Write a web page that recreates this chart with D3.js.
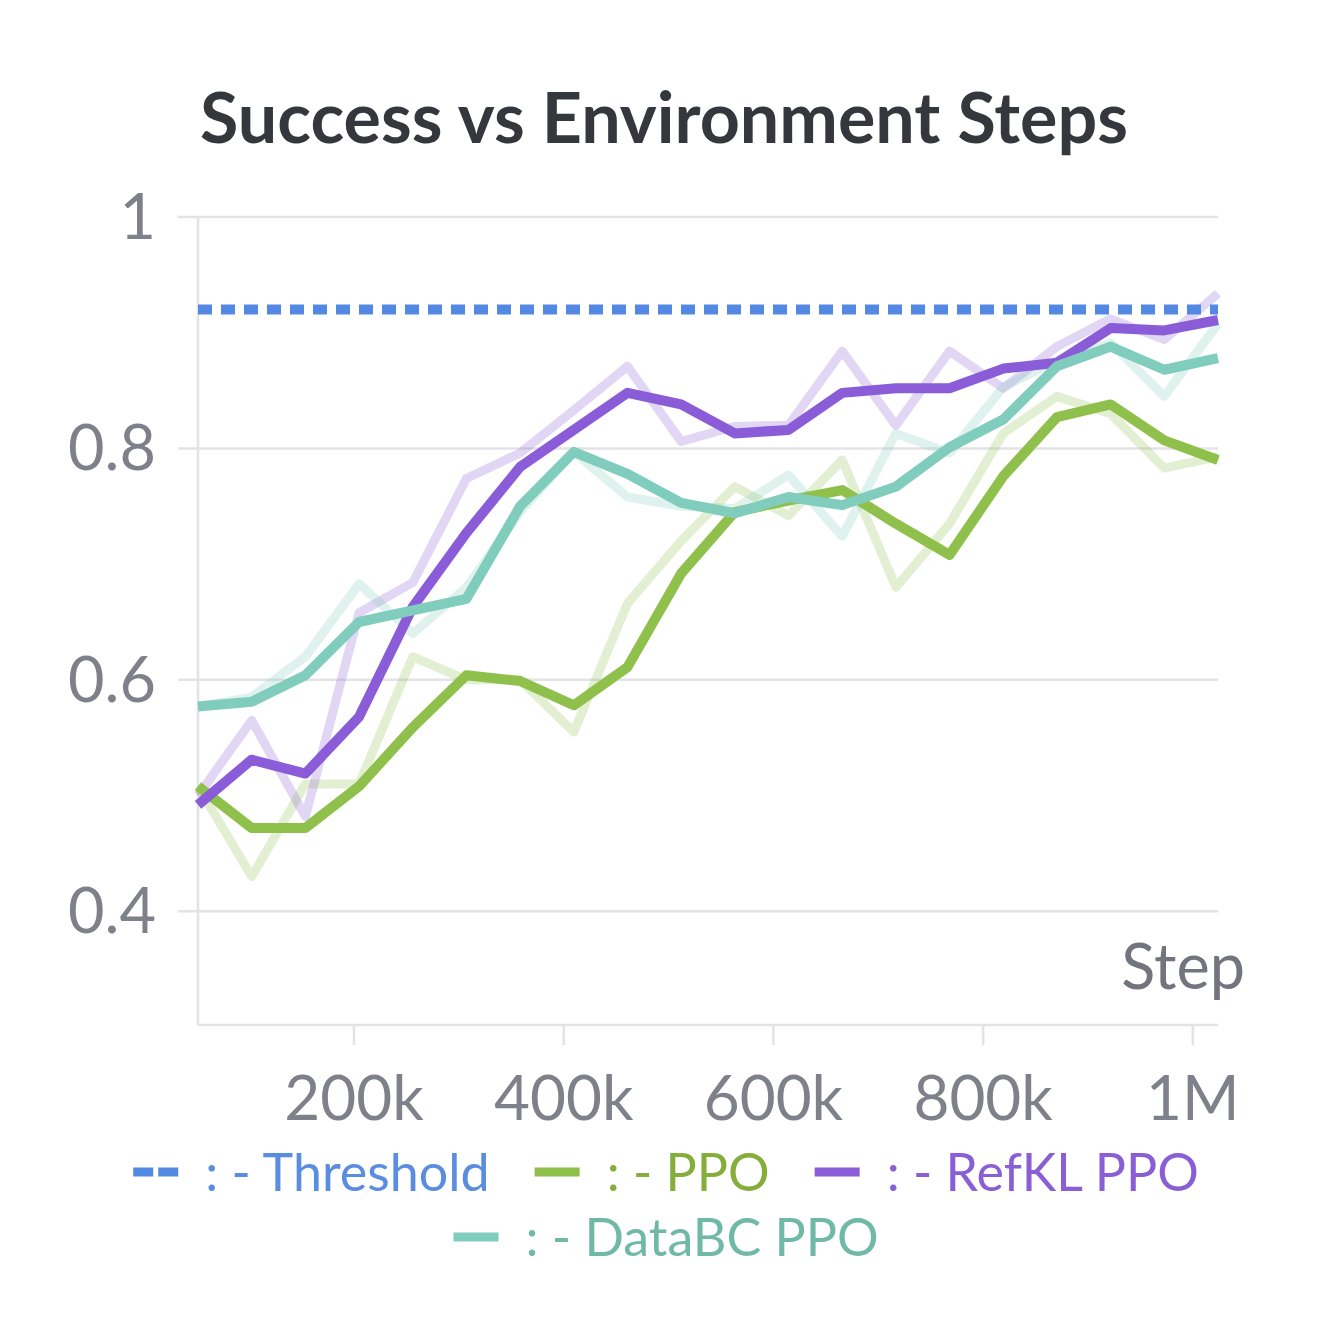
<!DOCTYPE html>
<html>
<head>
<meta charset="utf-8">
<script src="https://cdn.jsdelivr.net/npm/d3@7"></script>
<style>
  body { margin: 0; background: #fff; }
  svg { font-family: Lato, "Noto Sans", sans-serif; }
</style>
</head>
<body>
<svg width="1328" height="1328"></svg>
<script>
// steps (x) for every logged point
var steps = [51200, 102400, 153600, 204800, 256000, 307200, 358400, 409600, 460800, 512000,
             563200, 614400, 665600, 716800, 768000, 819200, 870400, 921600, 972800, 1024000];

// raw (faint) and smoothed (solid) success per run
var ppoRaw    = [0.508, 0.43, 0.51, 0.51, 0.62, 0.60, 0.60, 0.555, 0.666, 0.72,
                 0.767, 0.742, 0.79, 0.68, 0.735, 0.813, 0.845, 0.83, 0.783, 0.793];
var ppoSmooth = [0.508, 0.472, 0.472, 0.508, 0.559, 0.604, 0.599, 0.578, 0.611, 0.692,
                 0.745, 0.755, 0.764, 0.735, 0.708, 0.776, 0.827, 0.838, 0.807, 0.79];

var refklRaw    = [0.50, 0.565, 0.482, 0.658, 0.684, 0.774, 0.796, 0.833, 0.871, 0.806,
                   0.819, 0.82, 0.884, 0.82, 0.884, 0.852, 0.888, 0.912, 0.894, 0.934];
var refklSmooth = [0.492, 0.531, 0.519, 0.568, 0.663, 0.727, 0.784, 0.816, 0.848, 0.838,
                   0.813, 0.816, 0.848, 0.852, 0.852, 0.869, 0.874, 0.904, 0.902, 0.911];

var databcRaw    = [0.577, 0.585, 0.62, 0.683, 0.64, 0.68, 0.745, 0.797, 0.758, 0.75,
                    0.748, 0.777, 0.724, 0.813, 0.796, 0.853, 0.876, 0.891, 0.845, 0.908];
var databcSmooth = [0.577, 0.581, 0.604, 0.65, 0.66, 0.67, 0.75, 0.797, 0.778, 0.753,
                    0.744, 0.758, 0.751, 0.767, 0.801, 0.825, 0.871, 0.888, 0.868, 0.878];

var threshold = 0.92;

var yTicks = [1, 0.8, 0.6, 0.4];
var yTickLabels = ['1', '0.8', '0.6', '0.4'];
var xTicks = [200000, 400000, 600000, 800000, 1000000];
var xTickLabels = ['200k', '400k', '600k', '800k', '1M'];

var series = [
  { name: 'PPO',         raw: ppoRaw,    smooth: ppoSmooth,    color: '#8fc04c', text: '#84ad3c' },
  { name: 'RefKL PPO',   raw: refklRaw,  smooth: refklSmooth,  color: '#8a5cd8', text: '#8a5fd6' },
  { name: 'DataBC PPO',  raw: databcRaw, smooth: databcSmooth, color: '#80cdbd', text: '#6fb9a6' }
];

// plot box (note: "top" is a reserved window global, so prefix these)
var plotLeft = 198, plotRight = 1218, plotTop = 217, plotBottom = 1025;

var x = d3.scaleLinear()
  .domain([steps[0], steps[steps.length - 1]])
  .range([plotLeft, plotRight]);

var y = d3.scaleLinear()
  .domain([0.3, 1])
  .range([1027, plotTop]);

var svg = d3.select('svg');

// title
svg.append('text')
  .attr('x', 664).attr('y', 143)
  .attr('text-anchor', 'middle')
  .attr('font-size', 70).attr('font-weight', 'bold')
  .attr('fill', '#34373c')
  .text('Success vs Environment Steps');

// horizontal grid
svg.append('g')
  .selectAll('line')
  .data(yTicks)
  .enter()
    .append('line')
      .attr('x1', 178).attr('x2', plotRight)
      .attr('y1', function(d) { return y(d); })
      .attr('y2', function(d) { return y(d); })
      .attr('stroke', '#e3e3e7').attr('stroke-width', 2.5);

// frame: left and bottom
svg.append('line')
  .attr('x1', plotLeft).attr('x2', plotLeft).attr('y1', plotTop).attr('y2', plotBottom)
  .attr('stroke', '#e3e3e7').attr('stroke-width', 2.5);
svg.append('line')
  .attr('x1', plotLeft).attr('x2', plotRight).attr('y1', plotBottom).attr('y2', plotBottom)
  .attr('stroke', '#e3e3e7').attr('stroke-width', 2.5);

// y labels
svg.append('g')
  .selectAll('text')
  .data(yTicks)
  .enter()
    .append('text')
      .attr('x', 156)
      .attr('y', function(d) { return y(d) + 22; })
      .attr('text-anchor', 'end')
      .attr('font-size', 63)
      .attr('fill', '#7e8189')
      .text(function(d, i) { return yTickLabels[i]; });

// x ticks and labels
var xt = svg.append('g')
  .selectAll('g')
  .data(xTicks)
  .enter()
    .append('g')
      .attr('transform', function(d) { return 'translate(' + x(d) + ',0)'; });
xt.append('line')
  .attr('y1', plotBottom).attr('y2', plotBottom + 20)
  .attr('stroke', '#e3e3e7').attr('stroke-width', 2.5);
xt.append('text')
  .attr('y', 1120)
  .attr('text-anchor', 'middle')
  .attr('font-size', 62)
  .attr('fill', '#7e8189')
  .text(function(d, i) { return xTickLabels[i]; });

svg.append('text')
  .attr('x', 1245).attr('y', 989)
  .attr('text-anchor', 'end')
  .attr('font-size', 63)
  .attr('fill', '#72757e')
  .text('Step');

// lines
var line = d3.line()
  .x(function(d, i) { return x(steps[i]); })
  .y(function(d) { return y(d); });

var plot = svg.append('g');

// faint raw lines first
plot.selectAll('path.raw')
  .data(series)
  .enter()
    .append('path')
      .attr('class', 'raw')
      .attr('d', function(d) { return line(d.raw); })
      .attr('fill', 'none')
      .attr('stroke', function(d) { return d.color; })
      .attr('stroke-opacity', 0.25)
      .attr('stroke-width', 9)
      .attr('stroke-linejoin', 'round');

plot.selectAll('path.smooth')
  .data(series)
  .enter()
    .append('path')
      .attr('class', 'smooth')
      .attr('d', function(d) { return line(d.smooth); })
      .attr('fill', 'none')
      .attr('stroke', function(d) { return d.color; })
      .attr('stroke-width', 10)
      .attr('stroke-linejoin', 'round');

// threshold
plot.append('line')
  .attr('x1', plotLeft).attr('x2', plotRight)
  .attr('y1', y(threshold)).attr('y2', y(threshold))
  .attr('stroke', '#5389e2').attr('stroke-width', 10)
  .attr('stroke-dasharray', '14 9');

// legend
var legendRows = [
  [{ name: 'Threshold', color: '#5389e2', text: '#5a8de0', dash: true }].concat(series.slice(0, 2)),
  [series[2]]
];
var rowY = [1172, 1237];
var symW = 45, symGap = 27, itemGap = 45;

legendRows.forEach(function(row, r) {
  var g = svg.append('g');
  var items = g.selectAll('g')
    .data(row)
    .enter()
      .append('g');
  items.append('line')
    .attr('x1', 0).attr('x2', symW)
    .attr('y1', rowY[r]).attr('y2', rowY[r])
    .attr('stroke', function(d) { return d.color; })
    .attr('stroke-width', 9)
    .attr('stroke-dasharray', function(d) { return d.dash ? '20 5' : null; });
  items.append('text')
    .attr('x', symW + symGap)
    .attr('y', rowY[r] + 19)
    .attr('font-size', 52)
    .attr('fill', function(d) { return d.text; })
    .text(function(d) { return ': - ' + d.name; });

  // flow layout, centered
  var widths = [];
  items.each(function() { widths.push(this.getBBox().width); });
  var total = d3.sum(widths) + itemGap * (widths.length - 1);
  var cx = 666 - total / 2;
  items.attr('transform', function(d, i) {
    var tx = cx;
    cx += widths[i] + itemGap;
    return 'translate(' + tx + ',0)';
  });
});
</script>
</body>
</html>
